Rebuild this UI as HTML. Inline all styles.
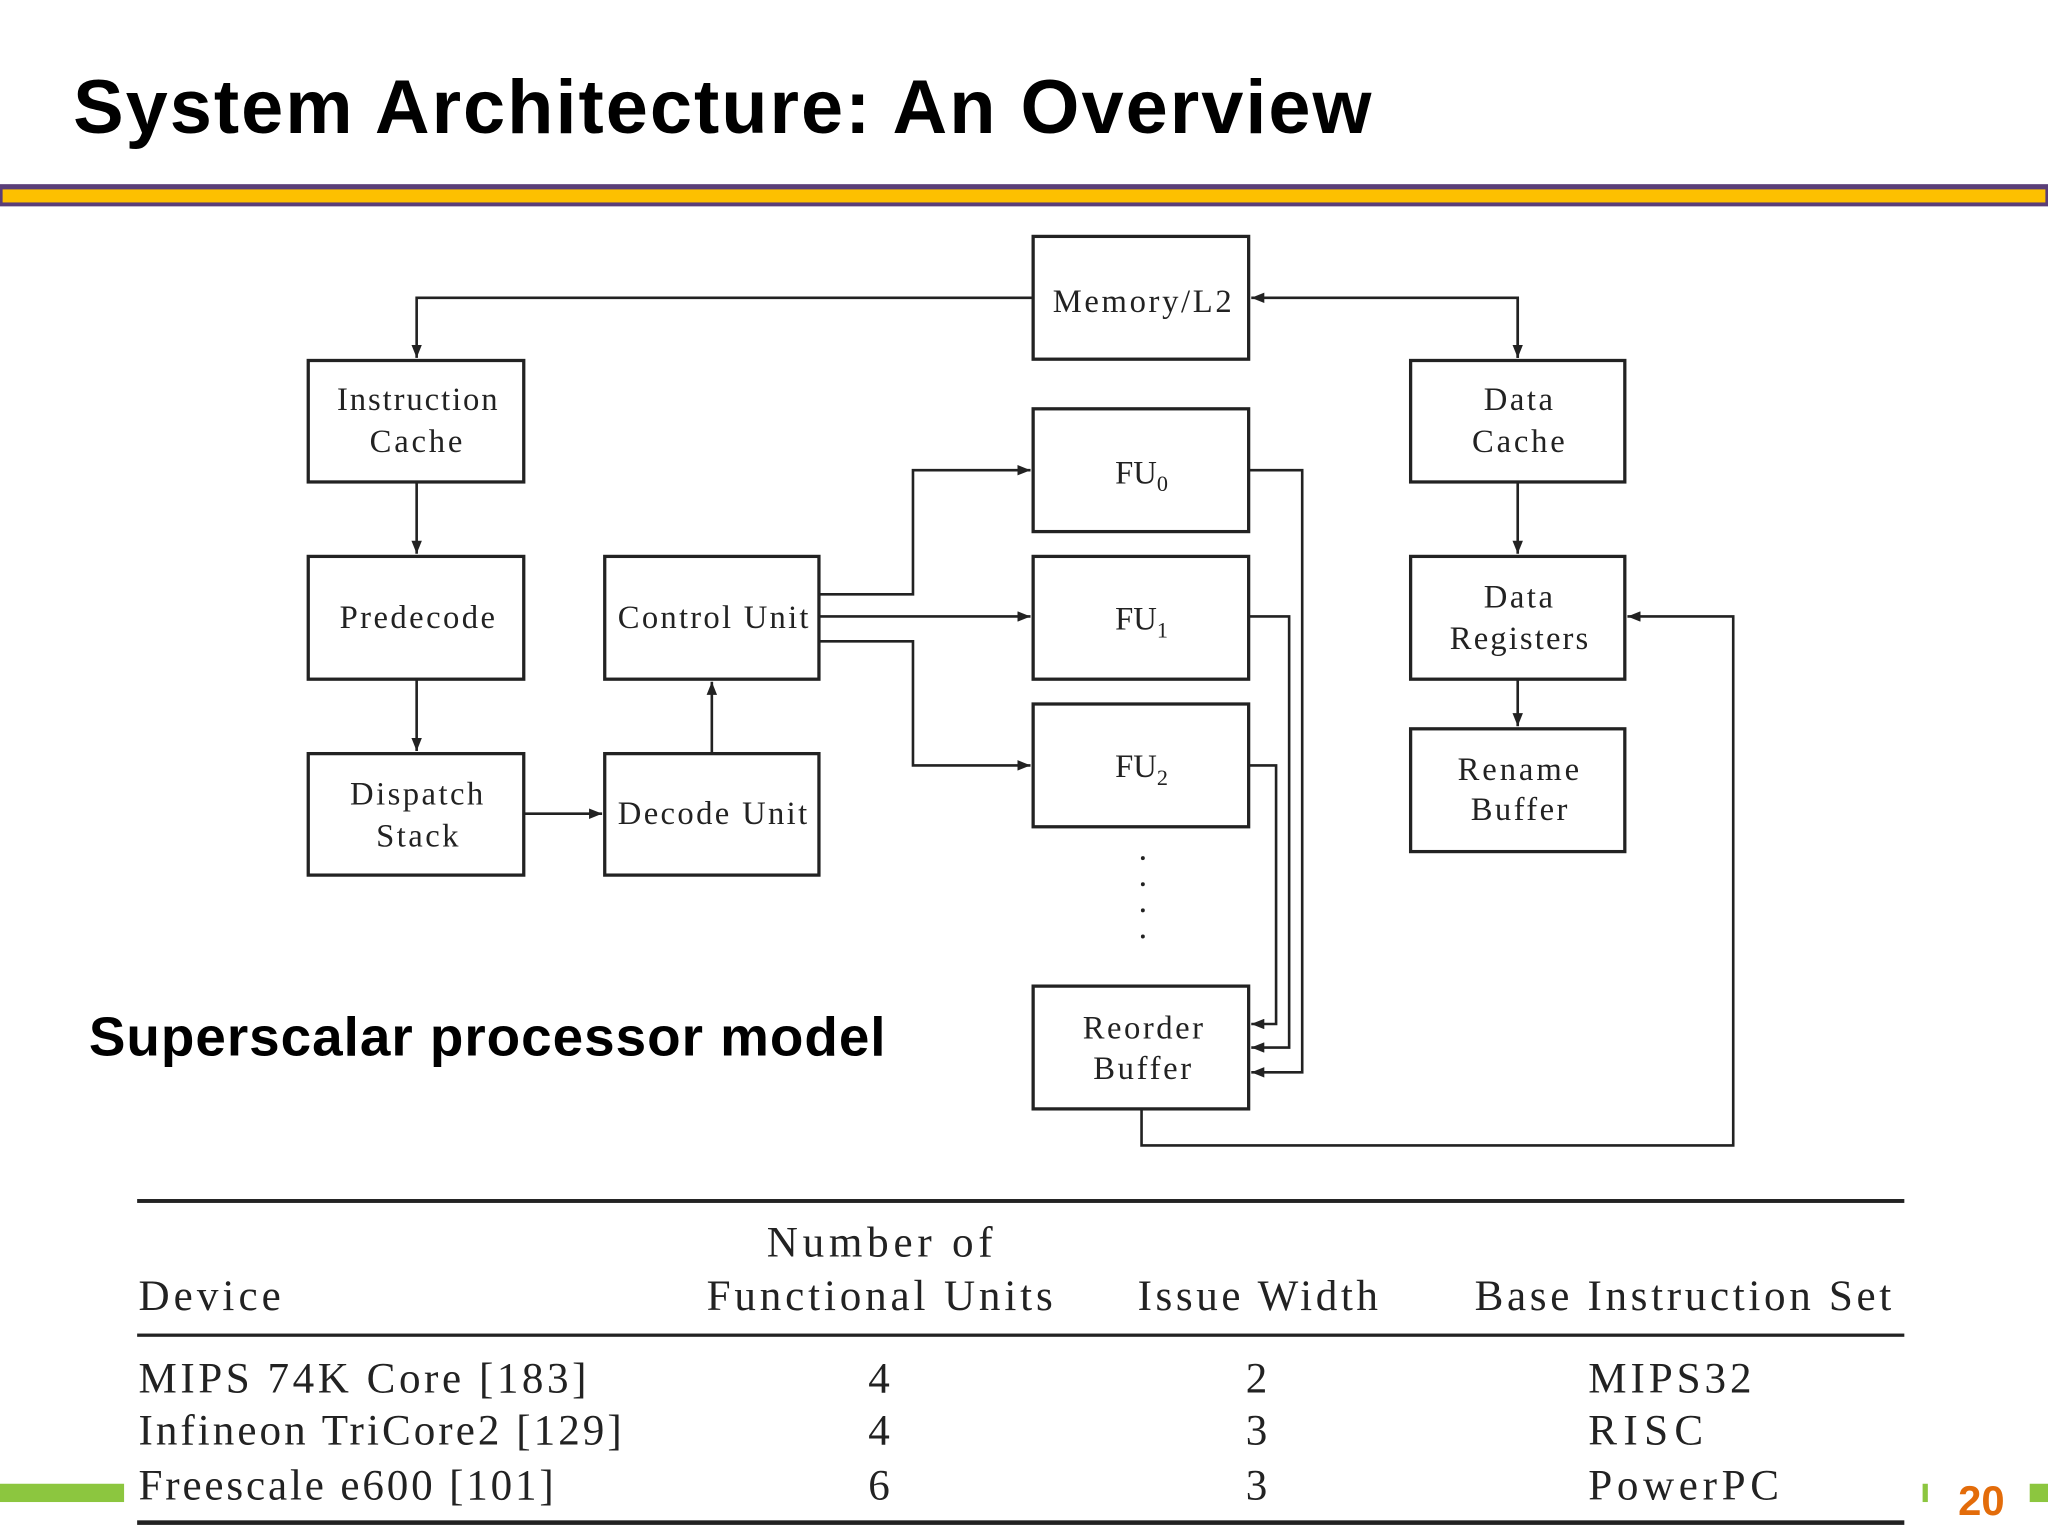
<!DOCTYPE html>
<html><head><meta charset="utf-8"><style>html,body{margin:0;padding:0;background:#fff}svg{display:block}</style></head>
<body>
<svg width="2048" height="1536" viewBox="0 0 1568 1176" xmlns="http://www.w3.org/2000/svg">
<defs><marker id="a" markerWidth="10" markerHeight="8" refX="10" refY="4" orient="auto" markerUnits="userSpaceOnUse"><path d="M0,0 L10,4 L0,8 z" fill="#222"/></marker></defs>
<rect width="1568" height="1176" fill="#fff"/>
<text x="56" y="102" textLength="994" lengthAdjust="spacing" font-family="Liberation Sans, sans-serif" font-weight="bold" font-size="58" fill="#000">System Architecture: An Overview</text>
<rect x="0" y="141" width="1568" height="17" fill="#5a3e78"/>
<rect x="2" y="145" width="1564" height="10" fill="#fdc000"/>
<g fill="none" stroke="#222" stroke-width="2.5">
<rect x="791" y="181" width="165" height="94"/>
<rect x="236" y="276" width="165" height="93"/>
<rect x="236" y="426" width="165" height="94"/>
<rect x="236" y="577" width="165" height="93"/>
<rect x="463" y="426" width="164" height="94"/>
<rect x="463" y="577" width="164" height="93"/>
<rect x="791" y="313" width="165" height="94"/>
<rect x="791" y="426" width="165" height="94"/>
<rect x="791" y="539" width="165" height="94"/>
<rect x="791" y="755" width="165" height="94"/>
<rect x="1080" y="276" width="164" height="93"/>
<rect x="1080" y="426" width="164" height="94"/>
<rect x="1080" y="558" width="164" height="94"/>
</g>
<g fill="none" stroke="#222" stroke-width="2">
<polyline points="791,228 319,228 319,274" marker-end="url(#a)"/>
<polyline points="1162,274 1162,228 958,228" marker-end="url(#a)"/>
<line x1="1162" y1="228" x2="1162" y2="274" marker-end="url(#a)"/>
<line x1="319" y1="369" x2="319" y2="424" marker-end="url(#a)"/>
<line x1="319" y1="520" x2="319" y2="575" marker-end="url(#a)"/>
<line x1="401" y1="623" x2="461" y2="623" marker-end="url(#a)"/>
<line x1="545" y1="577" x2="545" y2="522" marker-end="url(#a)"/>
<polyline points="627,455 699,455 699,360 789,360" marker-end="url(#a)"/>
<line x1="627" y1="472" x2="789" y2="472" marker-end="url(#a)"/>
<polyline points="627,491 699,491 699,586 789,586" marker-end="url(#a)"/>
<polyline points="956,360 997,360 997,821 958,821" marker-end="url(#a)"/>
<polyline points="956,472 987,472 987,802 958,802" marker-end="url(#a)"/>
<polyline points="956,586 977,586 977,784 958,784" marker-end="url(#a)"/>
<polyline points="874,849 874,877 1327,877 1327,472 1246,472" marker-end="url(#a)"/>
<line x1="1162" y1="369" x2="1162" y2="424" marker-end="url(#a)"/>
<line x1="1162" y1="520" x2="1162" y2="556" marker-end="url(#a)"/>
</g>
<g fill="#222"><circle cx="875" cy="657" r="1.5"/><circle cx="875" cy="677" r="1.5"/><circle cx="875" cy="697" r="1.5"/><circle cx="875" cy="717" r="1.5"/></g>
<g font-family="Liberation Serif, serif" font-size="25" fill="#222" lengthAdjust="spacing">
<text x="806" y="239" textLength="137" lengthAdjust="spacing">Memory/L2</text>
<text x="258" y="314" textLength="123" lengthAdjust="spacing">Instruction</text><text x="283" y="346" textLength="71" lengthAdjust="spacing">Cache</text>
<text x="260" y="481" textLength="119" lengthAdjust="spacing">Predecode</text>
<text x="268" y="616" textLength="102" lengthAdjust="spacing">Dispatch</text><text x="288" y="648" textLength="63" lengthAdjust="spacing">Stack</text>
<text x="473" y="481" textLength="146" lengthAdjust="spacing">Control Unit</text>
<text x="473" y="631" textLength="145" lengthAdjust="spacing">Decode Unit</text>
<text x="874" y="370" text-anchor="middle">FU<tspan font-size="17" dy="6">0</tspan></text>
<text x="874" y="482" text-anchor="middle">FU<tspan font-size="17" dy="6">1</tspan></text>
<text x="874" y="595" text-anchor="middle">FU<tspan font-size="17" dy="6">2</tspan></text>
<text x="829" y="795" textLength="92" lengthAdjust="spacing">Reorder</text><text x="837" y="826" textLength="75" lengthAdjust="spacing">Buffer</text>
<text x="1136" y="314" textLength="53" lengthAdjust="spacing">Data</text><text x="1127" y="346" textLength="71" lengthAdjust="spacing">Cache</text>
<text x="1136" y="465" textLength="53" lengthAdjust="spacing">Data</text><text x="1110" y="497" textLength="106" lengthAdjust="spacing">Registers</text>
<text x="1116" y="597" textLength="93" lengthAdjust="spacing">Rename</text><text x="1126" y="628" textLength="74" lengthAdjust="spacing">Buffer</text>
</g>
<text x="68" y="808" textLength="610" lengthAdjust="spacing" font-family="Liberation Sans, sans-serif" font-weight="bold" font-size="42" fill="#000">Superscalar processor model</text>
<rect x="0" y="1136" width="95" height="14" fill="#8cc63f"/>
<rect x="1472" y="1136" width="4" height="14" fill="#8cc63f"/>
<rect x="1554" y="1136" width="14" height="14" fill="#8cc63f"/>
<text x="1517" y="1160" text-anchor="middle" font-family="Liberation Sans, sans-serif" font-weight="bold" font-size="32" fill="#e36c0a">20</text>
<rect x="105" y="918" width="1353" height="3" fill="#222"/>
<rect x="105" y="1021" width="1353" height="2.5" fill="#222"/>
<rect x="105" y="1164" width="1353" height="3.5" fill="#222"/>
<g font-family="Liberation Serif, serif" font-size="33" fill="#222">
<text x="106" y="1003" textLength="109" lengthAdjust="spacing">Device</text>
<text x="587" y="962" textLength="173" lengthAdjust="spacing">Number of</text>
<text x="541" y="1003" textLength="265" lengthAdjust="spacing">Functional Units</text>
<text x="871" y="1003" textLength="184" lengthAdjust="spacing">Issue Width</text>
<text x="1129" y="1003" textLength="319" lengthAdjust="spacing">Base Instruction Set</text>
<text x="106" y="1066" textLength="343" lengthAdjust="spacing">MIPS 74K Core [183]</text>
<text x="106" y="1106" textLength="370" lengthAdjust="spacing">Infineon TriCore2 [129]</text>
<text x="106" y="1148" textLength="318" lengthAdjust="spacing">Freescale e600 [101]</text>
<text x="673" y="1066" text-anchor="middle">4</text><text x="673" y="1106" text-anchor="middle">4</text><text x="673" y="1148" text-anchor="middle">6</text>
<text x="962" y="1066" text-anchor="middle">2</text><text x="962" y="1106" text-anchor="middle">3</text><text x="962" y="1148" text-anchor="middle">3</text>
<text x="1216" y="1066" textLength="125" lengthAdjust="spacing">MIPS32</text><text x="1216" y="1106" textLength="88" lengthAdjust="spacing">RISC</text><text x="1216" y="1148" textLength="146" lengthAdjust="spacing">PowerPC</text>
</g>
</svg>
</body></html>
